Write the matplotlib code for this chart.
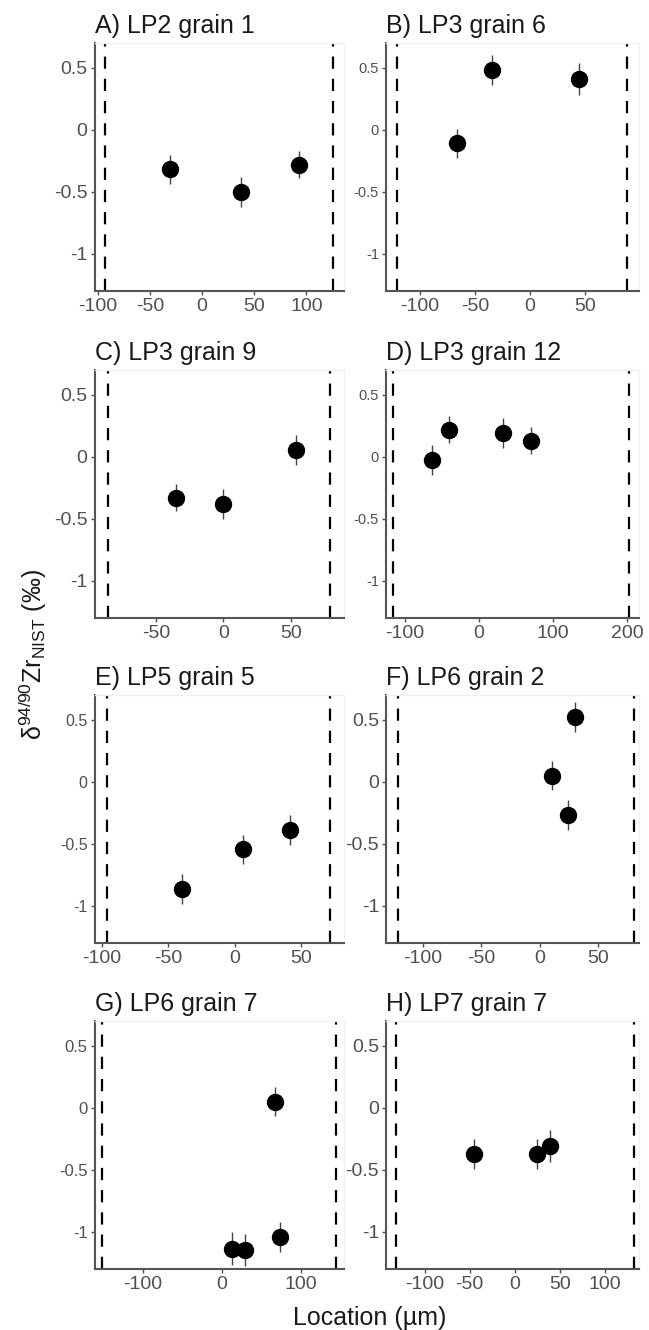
import matplotlib
matplotlib.use("Agg")
import matplotlib.pyplot as plt
import numpy as np

plt.rcParams['font.family'] = ['Liberation Sans', 'DejaVu Sans']
plt.rcParams['axes.unicode_minus'] = False
plt.rcParams['mathtext.fontset'] = 'custom'
plt.rcParams['mathtext.rm'] = 'Liberation Sans'
plt.rcParams['mathtext.it'] = 'Liberation Sans:italic'

# panel titles
titles = ["A) LP2 grain 1", "B) LP3 grain 6", "C) LP3 grain 9", "D) LP3 grain 12",
          "E) LP5 grain 5", "F) LP6 grain 2", "G) LP6 grain 7", "H) LP7 grain 7"]

# location of each spot (um)
loc_a = [-31, 37, 93]
loc_b = [-66, -34, 44.5]
loc_c = [-35, 0, 54]
loc_d = [-63, -40, 33, 70]
loc_e = [-39.5, 6.5, 41.5]
loc_f = [10.5, 24, 30.5]
loc_g = [13, 30, 67.5, 74]
loc_h = [-45, 25, 39.5]

# delta 94/90 Zr (permil)
dzr_a = [-0.32, -0.50, -0.28]
dzr_b = [-0.11, 0.48, 0.41]
dzr_c = [-0.33, -0.38, 0.055]
dzr_d = [-0.025, 0.22, 0.19, 0.13]
dzr_e = [-0.865, -0.545, -0.39]
dzr_f = [0.05, -0.265, 0.52]
dzr_g = [-1.135, -1.145, 0.05, -1.04]
dzr_h = [-0.373, -0.373, -0.31]

# 2SE
err_a = [0.12, 0.12, 0.11]
err_b = [0.12, 0.12, 0.13]
err_c = [0.11, 0.12, 0.12]
err_d = [0.12, 0.11, 0.12, 0.11]
err_e = [0.12, 0.12, 0.12]
err_f = [0.12, 0.12, 0.12]
err_g = [0.13, 0.13, 0.12, 0.12]
err_h = [0.12, 0.12, 0.13]

# grain rims (dashed lines)
rim_left = [-93, -121.4, -85.7, -116, -96.2, -121.3, -151.6, -132.4]
rim_right = [125.5, 88.5, 79, 203, 71.6, 80.6, 144.7, 132.4]

# axis ranges and ticks
x_range = [(-103, 135.5), (-131, 99.5), (-95.6, 89), (-125.5, 216),
           (-105.6, 82), (-131.3, 85), (-161.6, 154.4), (-143, 138)]
x_ticks = [[-100, -50, 0, 50, 100], [-100, -50, 0, 50], [-50, 0, 50], [-100, 0, 100, 200],
           [-100, -50, 0, 50], [-100, -50, 0, 50], [-100, 0, 100], [-100, -50, 0, 50, 100]]
y_ticks = [-1, -0.5, 0, 0.5]
y_ticklabels = ["-1", "-0.5", "0", "0.5"]

locs = [loc_a, loc_b, loc_c, loc_d, loc_e, loc_f, loc_g, loc_h]
dzrs = [dzr_a, dzr_b, dzr_c, dzr_d, dzr_e, dzr_f, dzr_g, dzr_h]
errs = [err_a, err_b, err_c, err_d, err_e, err_f, err_g, err_h]

# y tick label size differs a bit between panels in the original
ysizes = [14, 10.5, 14, 10.5, 11.5, 14, 12, 14]

W, H = 649, 1330
fig = plt.figure(figsize=(W / 100, H / 100), dpi=100)

col_x = [(94.5, 343.5), (386, 639)]
row_y = [(43, 291), (370, 618), (695, 943), (1021, 1269)]

for i in range(8):
    r, c = i // 2, i % 2
    x0, x1 = col_x[c]
    yt, yb = row_y[r]
    ax = fig.add_axes([x0 / W, 1 - yb / H, (x1 - x0) / W, (yb - yt) / H])

    ax.errorbar(locs[i], dzrs[i], yerr=errs[i], fmt='o', color='black',
                ms=11.5, ecolor='#444444', elinewidth=1.0, capsize=0, zorder=3)
    ax.axvline(rim_left[i], color='black', lw=1.6, ls=(0, (5.5, 4.5)))
    ax.axvline(rim_right[i], color='black', lw=1.6, ls=(0, (5.5, 4.5)))

    ax.set_xlim(*x_range[i])
    ax.set_ylim(-1.3, 0.7)
    ax.set_xticks(x_ticks[i])
    ax.set_xticklabels([str(v) for v in x_ticks[i]])
    ax.set_yticks(y_ticks)
    ax.set_yticklabels(y_ticklabels)

    ax.tick_params(axis='x', labelsize=14, colors='#505050', length=3, width=1, pad=2)
    ax.tick_params(axis='y', labelsize=ysizes[i], colors='#505050', length=3, width=1, pad=2)
    for s in ['left', 'bottom']:
        ax.spines[s].set_color('#555555')
        ax.spines[s].set_linewidth(1.5)
    for s in ['top', 'right']:
        ax.spines[s].set_color('#f0f0f0')
        ax.spines[s].set_linewidth(1.0)

    ax.set_title(titles[i], loc='left', fontsize=18, color='#1a1a1a', pad=7)

fig.text(33 / W, 0.508, r'$\mathrm{δ}^{94/90}\mathrm{Zr}_{\mathrm{NIST}}$ (‰)',
         rotation=90, ha='center', va='center', fontsize=18, color='#1a1a1a')
fig.text(370 / W, 5 / H, 'Location (µm)', ha='center', va='baseline',
         fontsize=18, color='#1a1a1a')

fig.savefig('out.png', dpi=100)
